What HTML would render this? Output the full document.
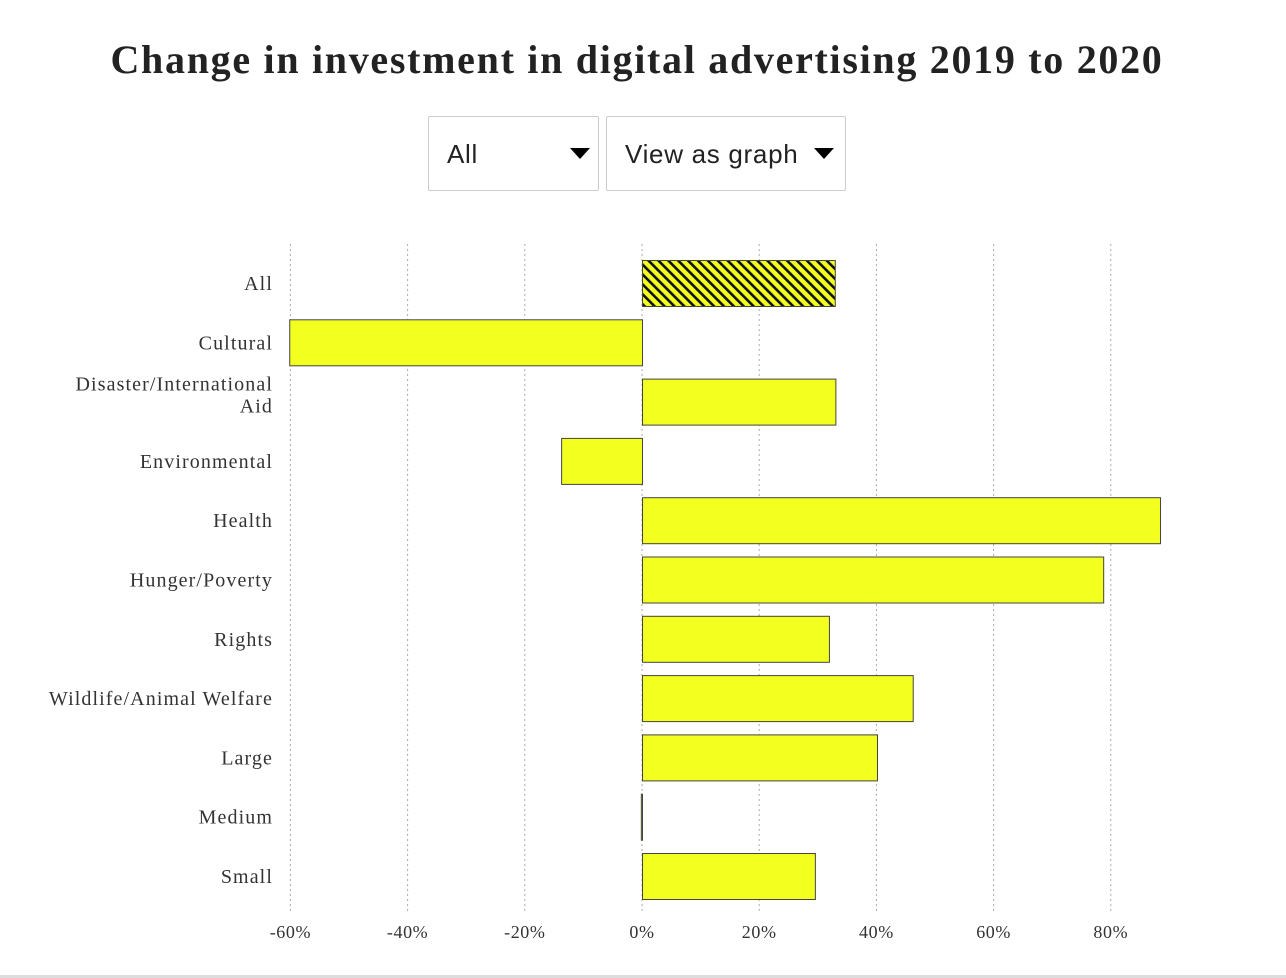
<!DOCTYPE html>
<html><head><meta charset="utf-8"><style>
body{margin:0;background:#fff;width:1286px;height:978px;overflow:hidden;position:relative;font-family:"Liberation Serif",serif}
h1{position:absolute;top:36px;left:0;width:1274px;text-align:center;margin:0;font-size:40px;font-weight:bold;color:#222;letter-spacing:1.7px}
.dd{position:absolute;top:116px;height:75px;border:1px solid #ccc;border-radius:2px;font-family:"Liberation Sans",sans-serif;font-size:26px;letter-spacing:0.7px;color:#222;box-sizing:border-box;padding-left:18px;line-height:74px}
.dd .arr{position:absolute;top:31px;width:0;height:0;border-left:10px solid transparent;border-right:10px solid transparent;border-top:11px solid #000}
.bottom{position:absolute;left:0;top:975px;width:1286px;height:3px;background:#ddd}
</style></head><body>
<h1>Change in investment in digital advertising 2019 to 2020</h1>
<div class="dd" style="left:428px;width:171px">All<span class="arr" style="left:141px"></span></div>
<div class="dd" style="left:606px;width:240px">View as graph<span class="arr" style="left:207px"></span></div>
<svg id="chart" width="1286" height="978" style="position:absolute;left:0;top:0">
<defs><pattern id="hatch" width="7" height="7" patternUnits="userSpaceOnUse" patternTransform="rotate(-45)">
<rect width="7" height="7" fill="#f2ff1f"/><rect x="0" y="0" width="2.6" height="7" fill="#111"/></pattern></defs>
</svg>
<div class="bottom"></div>
<script>
const categories=["All","Cultural","Disaster/International Aid","Environmental","Health","Hunger/Poverty","Rights","Wildlife/Animal Welfare","Large","Medium","Small"];
const values=[32.9,-60.2,33.0,-13.8,88.4,78.7,31.9,46.2,40.1,-0.2,29.5];
const ticks=[-60,-40,-20,0,20,40,60,80];
const tickLabels=["-60%","-40%","-20%","0%","20%","40%","60%","80%"];
const NS="http://www.w3.org/2000/svg";
const svg=document.getElementById('chart');
const x=v=>642+v*5.86;
const rowTop=i=>260+i*59.3;
function mk(t,a){const e=document.createElementNS(NS,t);for(const k in a)e.setAttribute(k,a[k]);svg.appendChild(e);return e;}
ticks.forEach((t,i)=>{
 const g=mk('line',{x1:x(t),x2:x(t),y1:244,y2:912,stroke:'#aaa','stroke-width':1,'stroke-dasharray':'2,3'});
 
 
 const l=mk('text',{x:x(t),y:938,'text-anchor':'middle','font-size':18,'letter-spacing':0.6,fill:'#333','font-family':'Liberation Serif, serif'});
 l.textContent=tickLabels[i];
 
 
});
categories.forEach((c,i)=>{
 const v=values[i];const y=rowTop(i);
 const x0=Math.min(x(0),x(v)),w=Math.max(Math.abs(x(v)-x(0)),1);
 const r=mk('rect',{x:x0+0.5,y:y+0.5,width:w,height:46,fill:i===0?'url(#hatch)':'#f2ff1f',stroke:'#444','stroke-width':1});
 
 
 const t=mk('text',{x:273,'text-anchor':'end','font-size':20,'letter-spacing':1.1,fill:'#333','font-family':'Liberation Serif, serif'});
 
 
 if(c==="Disaster/International Aid"){
  t.setAttribute('y',y+12);
  const a=document.createElementNS(NS,'tspan');a.setAttribute('x',273);a.textContent="Disaster/International";t.appendChild(a);
  const b=document.createElementNS(NS,'tspan');b.setAttribute('x',273);b.setAttribute('dy',22);b.textContent="Aid";t.appendChild(b);
 }else{t.setAttribute('y',y+30);t.textContent=c;}
});
</script>
</body></html>
